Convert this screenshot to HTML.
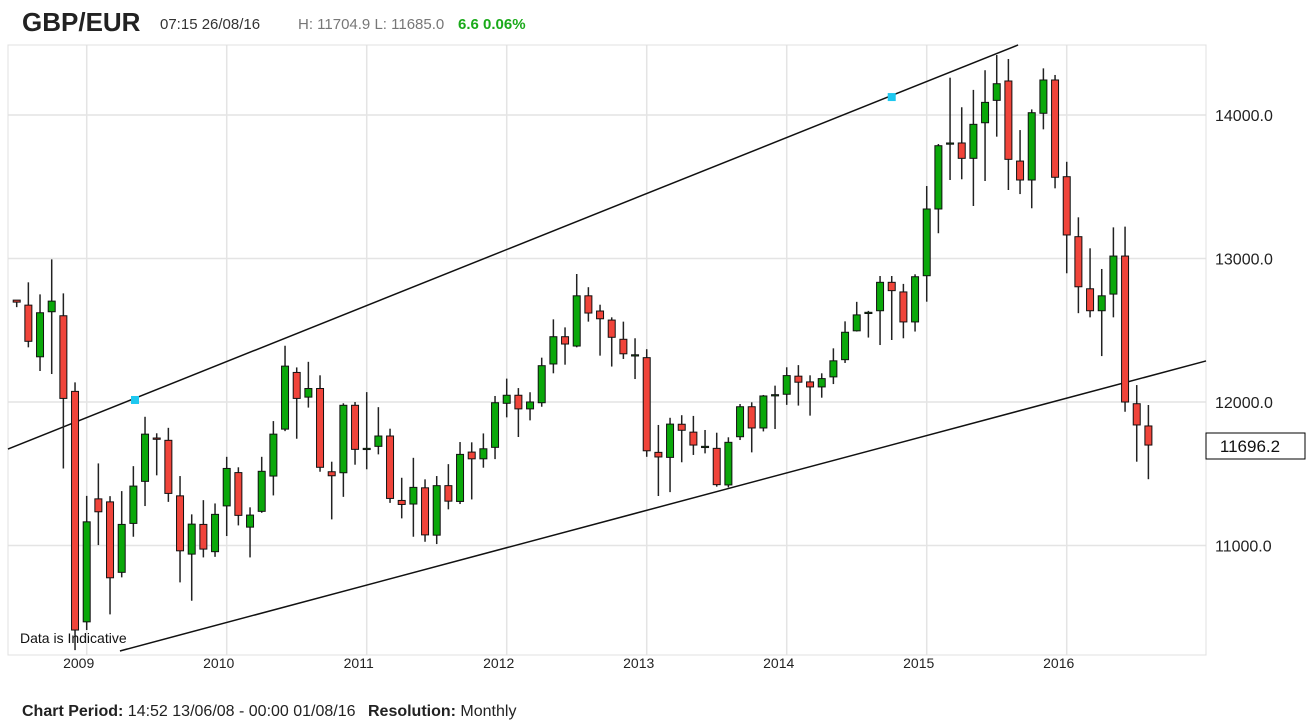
<!DOCTYPE html>
<html><head><meta charset="utf-8"><style>
html,body{margin:0;padding:0;background:#fff;width:1315px;height:727px;overflow:hidden}
svg{display:block;font-family:"Liberation Sans",sans-serif}
</style></head><body>
<svg id="chart" width="1315" height="727" viewBox="0 0 1315 727" xmlns="http://www.w3.org/2000/svg">
<g>
<text x="22" y="31" font-size="26" font-weight="bold" fill="#222">GBP/EUR</text>
<text x="160" y="29" font-size="15" fill="#333">07:15 26/08/16</text>
<text x="298" y="29" font-size="15" fill="#777">H: 11704.9 L: 11685.0</text>
<text x="458" y="29" font-size="15" font-weight="bold" fill="#1aaa1a">6.6 0.06%</text>
</g>
<g id="grid"></g>
<rect x="8" y="45" width="1198" height="610" fill="none" stroke="#e0e0e0"/>
<g id="trend"></g>
<g id="candles"></g>
<g id="axes"></g>
<text x="20" y="643" font-size="14" fill="#111">Data is Indicative</text>
<g>
<rect x="1206" y="433" width="99" height="26" fill="#fff" stroke="#000"/>
<text x="1250" y="452" font-size="17" text-anchor="middle" fill="#111">11696.2</text>
</g>
<g>
<text x="22" y="716" font-size="16" fill="#222"><tspan font-weight="bold">Chart Period:</tspan> 14:52 13/06/08 - 00:00 01/08/16   <tspan font-weight="bold" dx="8">Resolution:</tspan> Monthly</text>
</g>
</svg>
<script>
const startYear = 2008, startMonth = 7;
const opens  = [12710,12675,12315,12629,12601,12074,10468,11325,11304,10813,11154,11447,11749,11733,11346,10940,11147,10957,
11276,11508,11128,11238,11484,11811,12206,12034,12094,11514,11507,11977,
11677,11691,11763,11314,11289,11402,11072,11417,11307,11651,11604,11684,
11991,12047,11952,11995,12265,12455,12390,12740,12634,12571,12437,12329,
12309,11649,11614,11845,11790,11691,11677,11422,11758,11967,11819,12051,
12054,12180,12140,12105,12175,12295,12496,12625,12636,12834,12767,12558,
12880,13345,13805,13805,13698,13946,14102,14237,13679,13547,14012,14244,
13570,13152,12789,12636,12752,13017,11988,11833];
const highs  = [12710,12834,12750,12994,12757,12137,11346,11572,11344,11379,11553,11897,11782,11820,11484,11217,11316,11293,
11618,11545,11266,11618,11867,12392,12241,12280,12186,11584,11991,12000,
12069,11964,11814,11472,11611,11461,11484,11567,11721,11719,11781,12042,
12163,12097,12068,12309,12576,12520,12892,12800,12678,12590,12560,12444,
12368,11840,11890,11908,11903,11805,11786,11754,11986,11998,12049,12114,
12242,12257,12186,12200,12374,12562,12698,12635,12878,12878,12823,12890,
13505,13798,14260,14054,14175,14312,14418,14390,13895,14039,14325,14279,
13674,13287,13071,12927,13217,13222,12118,11979];
const lows   = [12661,12381,12216,12195,11537,10271,10411,11003,10520,10778,11061,11275,11489,11304,10743,10615,10917,10921,
11066,11140,10917,11228,11349,11797,11744,11961,11514,11182,11339,11563,
11531,11635,11297,11189,11061,11026,11010,11252,11289,11321,11542,11602,
11893,11756,11872,11967,12200,12260,12381,12560,12323,12247,12300,12160,
11618,11345,11372,11580,11631,11642,11410,11405,11735,11649,11795,11812,
11980,11975,11905,12030,12125,12272,12491,12449,12397,12432,12444,12491,
12699,13176,13547,13552,13366,13540,13849,13477,13449,13350,13900,13489,
12897,12619,12590,12320,12590,11932,11584,11462];
const closes = [12696,12423,12622,12703,12025,10411,11165,11235,10775,11147,11414,11776,11740,11363,10963,11149,10975,11217,
11537,11210,11212,11517,11776,12250,12025,12094,11545,11486,11977,11670,
11677,11763,11328,11286,11405,11074,11417,11309,11635,11604,11674,11995,
12047,11952,12000,12253,12455,12404,12740,12620,12580,12451,12336,12329,
11660,11617,11846,11803,11700,11691,11424,11719,11967,11819,12042,12051,
12184,12138,12105,12163,12287,12486,12607,12625,12834,12776,12558,12873,
13345,13786,13805,13698,13935,14088,14218,13691,13547,14016,14244,13566,
13164,12803,12636,12740,13017,12000,11840,11700];
const yTicks = [11000,12000,13000,14000];
const yTickLabels = ["11000.0","12000.0","13000.0","14000.0"];
const xYears = [2009,2010,2011,2012,2013,2014,2015,2016];
// trend line anchors: [monthIndex, value]
const upperLine = [[-0.75,11672],[85.83,14488]];
const lowerLine = [[8.85,10265],[101.94,12286]];
const upperMarkers = [[10.14,12014],[75.0,14125]];

const NS="http://www.w3.org/2000/svg";
function xScale(i){return 86.7+(i-6)*11.667;}
function yScale(v){return 115+(14000-v)*0.1435;}
function mk(tag,attrs,parent){const e=document.createElementNS(NS,tag);for(const k in attrs)e.setAttribute(k,attrs[k]);parent.appendChild(e);return e;}
const grid=document.getElementById('grid'),axes=document.getElementById('axes'),cg=document.getElementById('candles'),tg=document.getElementById('trend');
yTicks.forEach((t,k)=>{
  const l=mk('line',{x1:8,x2:1206,y1:yScale(t),y2:yScale(t),stroke:'#e4e4e4','stroke-width':1.5},grid);
  
  
  const tx=mk('text',{x:1215,y:yScale(t)+6,'font-size':16,fill:'#222'},axes);
  tx.textContent=yTickLabels[k];
  
  
});
xYears.forEach(yr=>{
  const i=(yr-startYear)*12+(1-startMonth);
  const x=xScale(i);
  const l=mk('line',{x1:x,x2:x,y1:45,y2:655,stroke:'#e4e4e4','stroke-width':1.5},grid);
  
  
  const tx=mk('text',{x:x-8,y:668,'font-size':14,fill:'#222','text-anchor':'middle'},axes);
  tx.textContent=yr;
  
  
});
function lineThrough(a,b,name){
  const l=mk('line',{x1:xScale(a[0]),y1:yScale(a[1]),x2:xScale(b[0]),y2:yScale(b[1]),stroke:'#111','stroke-width':1.5},tg);
  
  
}
lineThrough(upperLine[0],upperLine[1],'upper-trend-line');
lineThrough(lowerLine[0],lowerLine[1],'lower-trend-line');
upperMarkers.forEach(m=>{
  const r=mk('rect',{x:xScale(m[0])-4,y:yScale(m[1])-4,width:8,height:8,fill:'#1ec8f0'},tg);
  
  
});
opens.forEach((o,i)=>{
  const c=closes[i],h=highs[i],lo=lows[i],x=xScale(i);
  const g=mk('g',{},cg);
  
  
  mk('line',{x1:x,x2:x,y1:yScale(h),y2:yScale(lo),stroke:'#222','stroke-width':1.5},g);
  const top=yScale(Math.max(o,c)),bot=yScale(Math.min(o,c));
  const up=c>=o;
  mk('rect',{x:x-3.5,y:top,width:7,height:Math.max(bot-top,1.2),fill:up?'#0aa80a':'#f0443a',stroke:'#111','stroke-width':1},g);
});
</script>
</body></html>
